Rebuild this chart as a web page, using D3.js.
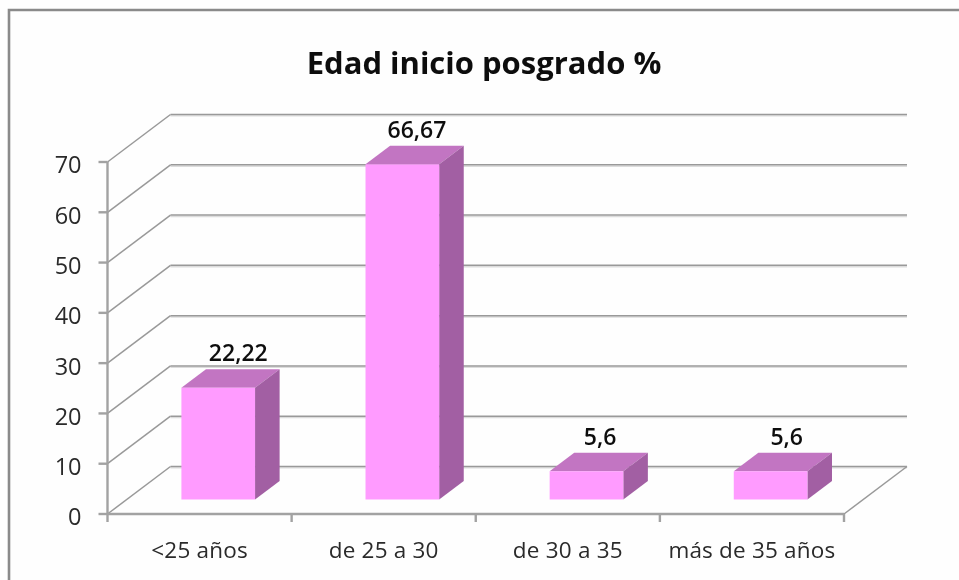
<!DOCTYPE html>
<html><head><meta charset="utf-8">
<script src="https://cdn.jsdelivr.net/npm/d3@7"></script>
<style>html,body{margin:0;padding:0;background:#fff;overflow:hidden}svg{display:block}text{font-family:"Open Sans",Lato,sans-serif;fill:#2a2a2a}</style>
</head><body><script>
const categories=["<25 años","de 25 a 30","de 30 a 35","más de 35 años"];
const values=[22.22,66.67,5.6,5.6];
const valueLabels=["22,22","66,67","5,6","5,6"];
const yTicks=[0,10,20,30,40,50,60,70];
const title="Edad inicio posgrado %";

const W=959,H=580;
const svg=d3.select("body").append("svg").attr("width",W).attr("height",H);
svg.append("defs").append("filter").attr("id","soft").attr("x",0).attr("y",0).attr("width","100%").attr("height","100%")
  .append("feGaussianBlur").attr("stdDeviation",0.45);
const root=svg.append("g").attr("filter","url(#soft)");
root.append("rect").attr("width",W).attr("height",H).attr("fill","#fefefe");
const x=d3.scaleBand().domain(categories).range([107.5,844]).paddingInner(0).paddingOuter(0);
const y=d3.scaleLinear().domain([0,70]).range([514,162]);
const depthX=d3.scaleLinear().domain([0,1]).range([0,63]);
const depthY=d3.scaleLinear().domain([0,1]).range([0,-47.5]);
const P=(px,py,d)=>[px+depthX(d),py+depthY(d)];
const line=d3.line();
const barLeft=0.297, barRight=0.697, barDepthStart=0.305, barDepthEnd=0.695;
const labelNudge=[-4.5,-10,-11,-8.5];

// frame
root.append("path").attr("d",line([[9,H],[9,10],[W,10]])).attr("fill","none").attr("stroke","#8a8a8a").attr("stroke-width",2.6);

// gridlines: shadow, then line
const drawGrid=(dy,color,width)=>{
  const gg=root.append("g").attr("fill","none").attr("stroke",color).attr("stroke-width",width).attr("transform",`translate(0,${dy})`);
  yTicks.forEach(t=>{
    gg.append("path").attr("d",line([P(x.range()[0],y(t),1),P(x.range()[1],y(t),1)]));
    if(dy===0) gg.append("path").attr("d",line([P(x.range()[0],y(t),0),P(x.range()[0],y(t),1)]));
  });
  if(dy===0) gg.append("path").attr("d",line([P(x.range()[1],y(0),0),P(x.range()[1],y(0),1)]));
};
drawGrid(1.4,"#dcdcdc",1.4);
drawGrid(0,"#999999",1.5);

// axes
const ax=root.append("g").attr("fill","none").attr("stroke","#a2a2a2").attr("stroke-width",2.4);
ax.append("path").attr("d",line([[x.range()[0],y(0)],[x.range()[0],y(70)]]));
ax.append("path").attr("d",line([[x.range()[0],y(0)],[x.range()[1],y(0)]]));
yTicks.forEach(t=>ax.append("path").attr("d",line([[x.range()[0]-9,y(t)],[x.range()[0],y(t)]])));
[...categories.map(c=>x(c)),x.range()[1]].forEach(e=>ax.append("path").attr("d",line([[e,y(0)],[e,y(0)+8]])));

// tick labels
root.append("g").selectAll("text").data(yTicks).join("text")
  .attr("x",x.range()[0]-26).attr("y",t=>y(t)+3).attr("dy","0.36em").attr("text-anchor","end")
  .attr("font-size",23.5).text(t=>t);
root.append("g").selectAll("text").data(categories).join("text")
  .attr("x",c=>x(c)+x.bandwidth()/2).attr("y",y(0)+44)
  .attr("text-anchor","middle").attr("font-size",22.5).attr("letter-spacing",0.2).text(c=>c);

// bars
const bars=root.append("g").selectAll("g").data(categories).join("g");
bars.each(function(c,i){
  const g=d3.select(this);
  const bw=x.bandwidth();
  const l=x(c)+bw*barLeft, r=x(c)+bw*barRight;
  const v=y(values[i]), z=y(0);
  const a=barDepthStart,b=barDepthEnd;
  const poly=(pts,fill)=>g.append("path").attr("d",line(pts)+"Z").attr("fill",fill);
  poly([P(l,v,a),P(r,v,a),P(r,v,b),P(l,v,b)],"#c274c2");
  poly([P(r,v,a),P(r,v,b),P(r,z,b),P(r,z,a)],"#a25fa3");
  poly([P(l,v,a),P(r,v,a),P(r,z,a),P(l,z,a)],"#ff9bff");
  const top=P((l+r)/2,v,b);
  g.append("text").attr("x",top[0]+labelNudge[i]).attr("y",top[1]-8).attr("text-anchor","middle")
    .attr("font-size",23).attr("font-weight",600).style("fill","#111").text(valueLabels[i]);
});

root.append("text").attr("x",484).attr("y",73.5).attr("text-anchor","middle")
  .attr("font-size",31).attr("font-weight",700).style("fill","#111").text(title);
</script></body></html>
